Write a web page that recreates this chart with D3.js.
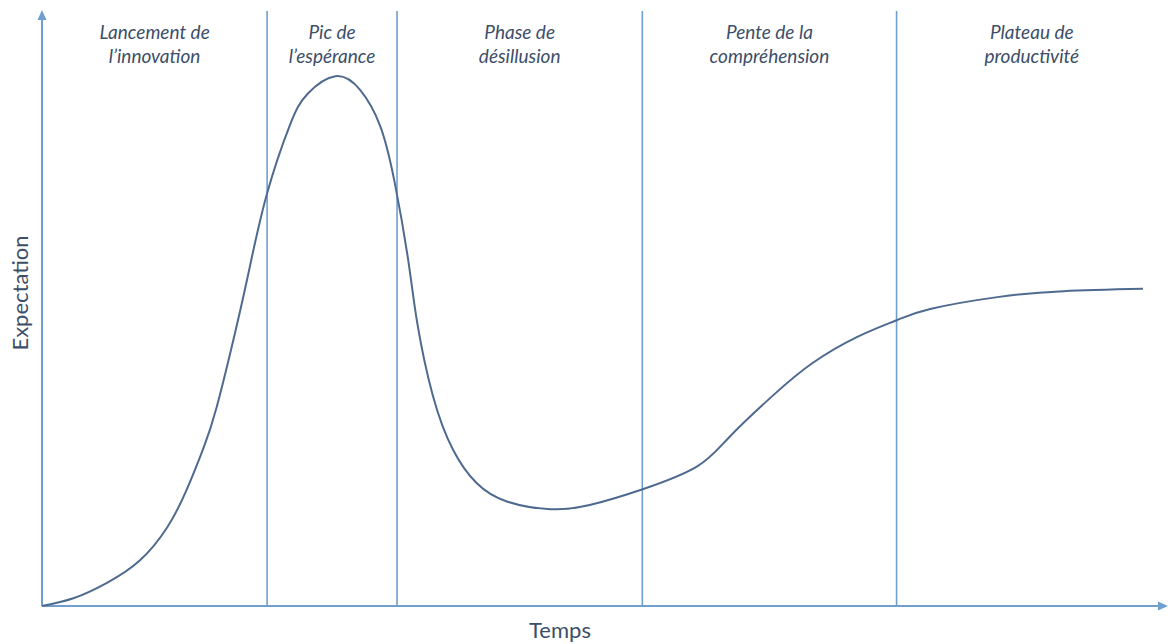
<!DOCTYPE html>
<html>
<head>
<meta charset="utf-8">
<script src="https://cdn.jsdelivr.net/npm/d3@7"></script>
<style>
  body { margin: 0; background: #fff; }
  svg { display: block; }
</style>
</head>
<body>
<div id="chart"></div>
<script>
// curve values (time 0-100, expectation 0-100)
const temps = [0, 2.8, 5.8, 8.75, 11.2, 12.9, 14.4, 15.6, 17.3, 18.6, 20.1, 22.1, 23.7, 26.2, 28.4, 30.2, 31.5, 32.7, 33.5, 34.9, 36.7, 38.8, 41.5, 45.4, 48.9, 53.7, 58.5, 61.4, 65.3, 68.8, 72.8, 76.3, 79.3, 85.3, 91.2, 98.3];
const expectation = [0, 1.3, 3.9, 7.7, 13.3, 19.5, 26.5, 33.5, 46.5, 57.5, 69.5, 80.8, 86.2, 89.2, 86.9, 80.8, 71.2, 58.2, 47.7, 35.4, 26.3, 20.7, 17.6, 16.3, 17.0, 19.7, 23.5, 28.5, 35.5, 40.9, 45.3, 48.1, 50.0, 52.0, 53.0, 53.4];

// phase boundaries (time) and labels
const phaseBounds = [0, 20.1, 31.7, 53.6, 76.3, 100];
const phaseLabels = [
  ["Lancement de", "l\u2019innovation"],
  ["Pic de", "l\u2019esp\u00e9rance"],
  ["Phase de", "d\u00e9sillusion"],
  ["Pente de la", "compr\u00e9hension"],
  ["Plateau de", "productivit\u00e9"]
];

const W = 1168, H = 644;
const axisColor = "#6f9fcf";
const curveColor = "#4f6a8f";
const textColor = "#3d4e69";

const x = d3.scaleLinear().domain([0, 100]).range([42, 1162]);
const y = d3.scaleLinear().domain([0, 100]).range([606, 12]);

const svg = d3.select("#chart").append("svg")
  .attr("width", W)
  .attr("height", H);

// vertical phase separators
svg.selectAll("line.sep")
  .data(phaseBounds.slice(1, -1))
  .join("line")
  .attr("class", "sep")
  .attr("x1", d => x(d)).attr("x2", d => x(d))
  .attr("y1", 11).attr("y2", y(0))
  .attr("stroke", axisColor)
  .attr("stroke-width", 1.6);

// axes
svg.append("line")
  .attr("x1", x(0)).attr("x2", 1162)
  .attr("y1", y(0)).attr("y2", y(0))
  .attr("stroke", axisColor).attr("stroke-width", 2);
svg.append("line")
  .attr("x1", x(0)).attr("x2", x(0))
  .attr("y1", y(0)).attr("y2", 18)
  .attr("stroke", axisColor).attr("stroke-width", 2);

// arrowheads
svg.append("path")
  .attr("d", `M${x(0) - 4.5},${20} L${x(0)},${10} L${x(0) + 4.5},${20} Z`)
  .attr("fill", axisColor);
svg.append("path")
  .attr("d", `M1158,${y(0) - 4.5} L1168,${y(0)} L1158,${y(0) + 4.5} Z`)
  .attr("fill", axisColor);

// hype curve
const pts = temps.map((t, i) => [t, expectation[i]]);
svg.append("path")
  .datum(pts)
  .attr("fill", "none")
  .attr("stroke", curveColor)
  .attr("stroke-width", 2)
  .attr("d", d3.line()
    .x(d => x(d[0]))
    .y(d => y(d[1]))
    .curve(d3.curveNatural));

// phase labels
const labels = svg.selectAll("text.phase")
  .data(phaseLabels)
  .join("text")
  .attr("class", "phase")
  .attr("text-anchor", "middle")
  .attr("font-family", "Lato, 'Open Sans', sans-serif")
  .attr("font-style", "italic")
  .attr("font-size", 19)
  .attr("fill", textColor)
  .attr("transform", (d, i) => `translate(${(x(phaseBounds[i]) + x(phaseBounds[i + 1]) + (i === 4 ? 5 : 0)) / 2},39)`);
labels.selectAll("tspan")
  .data(d => d)
  .join("tspan")
  .attr("x", 0)
  .attr("dy", (d, i) => i === 0 ? 0 : 24)
  .text(d => d);

// axis titles
svg.append("text")
  .attr("x", 560).attr("y", 638)
  .attr("text-anchor", "middle")
  .attr("font-family", "Lato, 'Open Sans', sans-serif")
  .attr("font-size", 22)
  .attr("fill", textColor)
  .text("Temps");

svg.append("text")
  .attr("transform", "translate(28,293) rotate(-90)")
  .attr("text-anchor", "middle")
  .attr("font-family", "Lato, 'Open Sans', sans-serif")
  .attr("font-size", 22)
  .attr("fill", textColor)
  .text("Expectation");
</script>
</body>
</html>
